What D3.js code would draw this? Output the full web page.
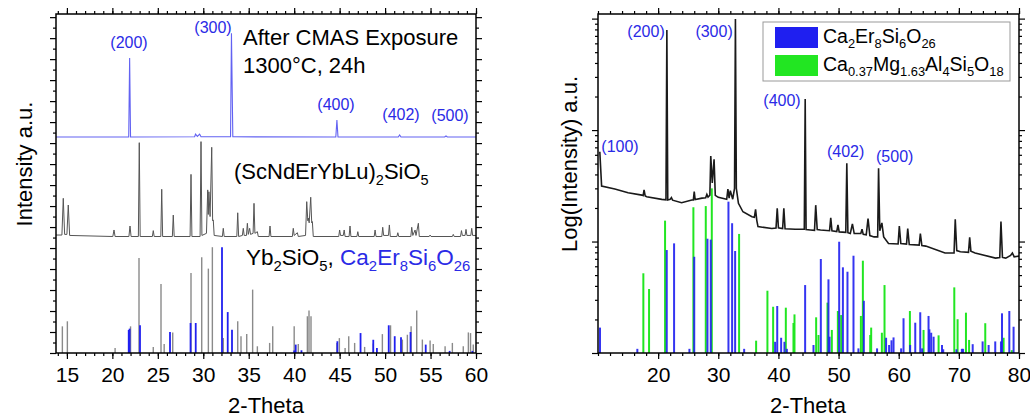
<!DOCTYPE html>
<meta charset="utf-8">
<style>
  html, body { margin: 0; padding: 0; background: #fff; }
  svg { display: block; font-family: "Liberation Sans", Arial, sans-serif; }
</style>
<body>
<script src="https://cdnjs.cloudflare.com/ajax/libs/d3/7.8.5/d3.min.js"></script>
<script>
// ---- left panel data (2-Theta, a.u.) ----
var afterCmas = [[13.8,10.29],[21.8,10.29],[21.9,14.05],[22.0,10.29],[29.05,10.3],[29.15,10.43],[29.35,10.32],
  [29.6,10.43],[29.75,10.3],[33.0,10.3],[33.1,15.23],[33.25,10.3],[44.58,10.29],[44.7,11.10],[44.82,10.29],
  [51.45,10.29],[51.6,10.39],[51.75,10.29],[56.55,10.29],[56.7,10.34],[56.85,10.29],[60,10.29]];

var hea = [[13.8,5.62],[14.45,5.62],[14.6,7.37],[14.75,5.65],[15.0,5.65],[15.15,7.05],[15.3,5.6],[20.05,5.55],
  [20.18,5.86],[20.3,5.55],[21.82,5.55],[21.94,6.05],[22.06,5.55],[22.86,5.55],[22.96,10.02],[23.06,5.55],
  [24.4,5.55],[24.5,5.83],[24.6,5.55],[25.33,5.55],[25.43,7.80],[25.53,5.55],[26.6,5.55],[26.7,6.57],
  [26.8,5.55],[28.55,5.55],[28.65,8.51],[28.75,5.55],[29.65,5.55],[29.75,10.07],[29.85,5.6],[30.35,5.7],
  [30.49,7.77],[30.55,6.6],[30.62,7.68],[30.75,6.5],[30.93,9.80],[31.03,6.3],[31.1,6.34],[31.2,5.6],
  [32.1,5.55],[32.2,5.94],[32.3,5.55],[33.69,5.55],[33.79,6.68],[33.89,5.55],[34.3,5.6],[34.4,5.94],
  [34.5,5.6],[34.75,5.6],[34.85,6.18],[34.95,5.65],[35.1,5.94],[35.2,5.65],[35.48,5.7],[35.58,7.13],
  [35.68,5.7],[35.95,5.78],[36.05,5.55],[37.24,5.55],[37.34,6.05],[37.44,5.55],[39.8,5.55],[39.9,5.94],
  [40.0,5.6],[40.35,5.73],[40.45,5.55],[41.25,5.6],[41.38,7.21],[41.5,6.3],[41.55,6.43],[41.65,6.2],
  [41.82,7.42],[41.93,6.2],[42.0,6.26],[42.1,5.55],[44.9,5.55],[45.0,5.86],[45.1,5.6],[45.4,5.6],
  [45.5,5.86],[45.6,5.55],[46.04,5.55],[46.14,6.05],[46.24,5.55],[46.9,5.55],[47.0,5.78],[47.1,5.55],
  [48.8,5.55],[48.9,5.86],[49.0,5.55],[49.64,5.55],[49.74,5.99],[49.84,5.6],[50.37,5.6],[50.47,6.10],
  [50.57,5.55],[51.3,5.55],[51.4,5.73],[51.5,5.55],[52.83,5.55],[52.93,5.99],[53.05,5.6],[53.3,5.86],
  [53.4,5.6],[53.66,6.18],[53.76,5.55],[54.85,5.55],[54.95,5.62],[55.05,5.55],[57.4,5.55],[57.5,5.65],
  [57.6,5.55],[58.3,5.55],[58.4,5.83],[58.5,5.6],[58.8,5.6],[58.9,5.89],[59.0,5.6],[59.43,5.6],
  [59.53,5.94],[59.63,5.6],[60,5.6]];

var ybSticks = [[14.5,1.27],[15.05,1.51],[20.3,0.24],[22.0,1.27],[22.93,4.53],[24.5,0.29],[25.35,3.29],
  [25.7,0.43],[26.64,0.98],[28.65,3.81],[29.83,4.56],[30.56,4.02],[31.0,5.04],[32.2,0.71],[33.79,1.51],
  [34.15,0.8],[34.78,0.9],[35.43,3.02],[35.95,0.32],[37.3,0.48],[37.64,1.27],[40.0,1.27],[40.45,0.43],
  [41.45,1.75],[41.63,2.02],[41.85,1.75],[44.7,0.48],[44.97,0.71],[45.6,0.24],[46.0,0.8],[46.65,0.48],
  [47.75,0.29],[48.7,0.45],[49.7,0.9],[50.6,1.32],[51.9,0.64],[52.45,0.87],[52.86,1.27],[53.48,2.02],
  [54.1,0.64],[54.95,0.6],[55.3,0.43],[56.6,0.32],[57.4,0.48],[58.6,0.32],[59.16,0.98],[59.4,0.95],[59.7,0.4]];

var apatiteSticksL = [[21.8,1.1],[21.9,1.16],[23.04,1.32],[26.34,1.0],[28.6,1.43],[29.17,1.43],[32.06,5.04],
  [32.69,1.95],[33.16,1.11],[40.0,0.12],[40.17,0.40],[40.8,0.13],[44.75,0.56],[47.3,0.95],[48.7,0.63],
  [49.1,0.24],[50.4,1.32],[51.06,0.8],[51.75,0.75],[52.8,1.0],[54.47,0.40],[57.1,0.1],[59.6,0.1]];

var labelsL = [["(200)",21.83,14.53],["(300)",31.07,15.25],["(400)",44.6,11.58],["(402)",51.75,11.1],["(500)",57.14,11.05]];

// ---- right panel data (2-Theta, counts, log axis) ----
var cmasScan = [[10.3,64],[10.6,31.5],[12.8,29.6],[15.0,27.4],[17.3,26.1],[17.5,25.8],[17.66,29.0],[17.85,25.6],
  [18.1,25.2],[20.6,23.9],[21.3,23.7],[21.45,789],[21.6,23.6],[22.0,23.9],[22.2,24.8],[22.4,23.5],[23.9,22.3],
  [25.6,23.6],[25.85,23.6],[26.0,28.0],[26.15,23.8],[27.3,24.5],[27.9,24.7],[28.1,26.5],[28.3,25],[28.6,26],
  [28.75,58.5],[29.0,33.5],[29.3,54.6],[29.5,26],[30.0,24.9],[31.4,23.9],[31.6,29.6],[31.8,24.5],[32.0,28.6],
  [32.4,24],[32.7,30],[32.85,990],[33.0,30],[33.35,22.0],[34.1,18.5],[35.6,16.7],[36.0,16.5],[36.2,19.4],
  [36.4,15.5],[36.6,13.6],[38.9,13.1],[39.6,13.2],[39.8,19.9],[40.0,13.3],[40.3,13.2],[40.7,13.1],[40.9,19.9],
  [41.1,13.0],[42.8,12.9],[44.3,12.9],[44.45,190],[44.6,12.8],[45.3,12.7],[46.0,12.6],[46.2,21.2],[46.45,12.8],
  [47.0,12.7],[48.5,12.5],[48.7,16.3],[48.9,12.5],[49.7,12.3],[49.9,14.1],[50.1,12.2],[51.2,12.1],[51.37,50.3],
  [51.55,12.0],[51.95,11.8],[52.3,14.4],[52.6,11.8],[53.7,11.8],[53.9,12.9],[54.1,11.6],[54.6,11.5],[54.9,16.1],
  [55.2,11.3],[55.9,11.0],[56.5,11.0],[56.65,45.4],[56.85,12.5],[57.2,14.7],[57.5,11.0],[58.3,9.6],[59.9,9.5],
  [60.1,13.8],[60.35,9.6],[61.3,9.5],[61.5,13.1],[61.75,9.4],[63.4,9.3],[63.6,11.8],[63.85,9.2],[64.5,9.1],
  [67.7,7.9],[69.2,7.9],[69.4,15.8],[69.65,8.3],[70.25,8.1],[71.6,8.0],[71.8,10.9],[72.0,8.2],[72.7,7.9],
  [76.1,7.1],[76.8,7.2],[77.0,15.1],[77.25,7.2],[77.8,7.1],[78.6,7.5],[78.9,7.9],[79.2,7.3],[80,7.4]];

var apatiteSticksR = [[10.33,1.69],[16.54,1.09],[21.43,8.39],[22.65,9.63],[25.2,1.09],[26.0,7.3],[28.2,10.6],
  [28.75,10.4],[31.69,22.8],[32.3,14.6],[32.8,8.22],[34.3,1.09],[39.45,1.26],[39.8,2.64],[40.45,1.37],[41.0,1.26],
  [41.4,1.09],[44.44,4.07],[45.83,1.18],[47.05,6.97],[48.32,4.58],[48.5,1.40],[50.1,9.96],[50.72,5.87],[51.48,5.36],
  [52.48,7.46],[53.3,1.1],[54.2,2.94],[56.4,1.1],[57.9,1.37],[58.4,1.18],[58.8,1.3],[59.14,1.38],[60.4,1.1],
  [60.8,2.05],[61.9,1.18],[62.75,1.87],[63.58,2.32],[63.9,1.1],[64.96,2.15],[65.1,1.63],[65.4,1.52],[65.8,1.4],
  [67.2,1.18],[67.4,1.08],[69.6,1.08],[70.5,1.09],[70.7,1.09],[72.3,1.2],[73.95,1.27],[74.95,1.18],[76.05,1.27],
  [77.0,1.27],[77.17,2.27],[78.39,2.38],[79.1,1.72]];

var cordieriteSticks = [[17.54,5.19],[18.49,3.75],[21.15,15.4],[25.86,20.3],[27.92,20.8],[28.92,30.0],[33.46,11.7],
  [36.29,1.29],[38.17,3.62],[39.12,2.60],[41.23,2.55],[42.5,1.86],[42.67,2.22],[46.27,2.09],[46.66,1.45],
  [48.16,2.83],[48.88,1.61],[49.88,2.38],[50.43,2.19],[53.71,2.15],[54.04,6.73],[55.26,1.45],[55.42,1.69],
  [57.2,1.52],[57.64,4.07],[61.86,2.38],[64.13,1.61],[66.63,1.44],[69.24,3.88],[69.79,2.01],[71.18,2.30],
  [71.7,1.31],[74.39,1.85],[77.44,1.37],[78.8,1.06]];

var labelsR = [["(100)",13.66,63.5],["(200)",17.99,682],["(300)",29.3,682],["(400)",40.6,164],["(402)",51.18,57.3],["(500)",59.33,51.6]];

var legendNames = ["Ca_{2}Er_{8}Si_{6}O_{26}", "Ca_{0.37}Mg_{1.63}Al_{4}Si_{5}O_{18}"];
var legendColors = ["#1f1ff0", "#22e622"];

var svg = d3.select("body").append("svg").attr("width", 1030).attr("height", 420);

var xL = d3.scaleLinear([13.8, 60], [56, 476]);
var yL = d3.scaleLinear([0, 16.15], [353, 14]);
var xR = d3.scaleLinear([10, 80], [598, 1019]);
var yR = d3.scaleLog([1, 1100], [353, 14]);

var blue = "#2a2ae6";

/* appends tspans for a string with subscripts written as X_{n} */
function addRich(t, str, size, color) {
  var bits = str.split(/_\{([^}]*)\}/);
  bits.forEach(function(b, i) {
    if (b === "") return;
    var sub = i % 2 === 1;
    var s = t.append("tspan").text(b).attr("fill", color || "#000");
    if (sub) s.attr("font-size", size * 0.66).attr("dy", size * 0.28);
    else if (i > 0 && bits[i - 1] !== undefined) s.attr("dy", -size * 0.28);
  });
  return t;
}
function rich(parent, x, y, str, size, color) {
  var t = parent.append("text").attr("x", x).attr("y", y).attr("font-size", size);
  return addRich(t, str, size, color);
}

function clip(id, x, y) {
  svg.append("clipPath").attr("id", id).append("rect")
    .attr("x", x.range()[0]).attr("y", y.range()[1])
    .attr("width", x.range()[1] - x.range()[0]).attr("height", y.range()[0] - y.range()[1]);
}
clip("cl", xL, yL);
clip("cr", xR, yR);

function axes(x, y, xMaj, xMin, yMaj, yMin) {
  var bot = y.range()[0], top = y.range()[1], lft = x.range()[0], rgt = x.range()[1];
  function add(axis, tr) {
    var g = svg.append("g").attr("transform", tr).call(axis);
    g.select(".domain").remove();
    g.selectAll("line").attr("stroke", "#000").attr("stroke-width", 1.2);
    return g;
  }
  add(d3.axisBottom(x).tickValues(xMin).tickSize(3).tickFormat(""), "translate(0," + bot + ")");
  add(d3.axisTop(x).tickValues(xMin).tickSize(3).tickFormat(""), "translate(0," + top + ")");
  add(d3.axisTop(x).tickValues(xMaj).tickSize(6).tickFormat(""), "translate(0," + top + ")");
  var lab = add(d3.axisBottom(x).tickValues(xMaj).tickSize(6).tickPadding(8).tickFormat(d3.format("d")), "translate(0," + bot + ")");
  lab.attr("font-size", 21).attr("font-family", null);
  lab.selectAll("text").attr("fill", "#000");
  [[d3.axisLeft, lft], [d3.axisRight, rgt]].forEach(function(a) {
    add(a[0](y).tickValues(yMin).tickSize(3).tickFormat(""), "translate(" + a[1] + ",0)");
    add(a[0](y).tickValues(yMaj).tickSize(6).tickFormat(""), "translate(" + a[1] + ",0)");
  });
  svg.append("rect").attr("x", lft).attr("y", top).attr("width", rgt - lft).attr("height", bot - top)
    .attr("fill", "none").attr("stroke", "#000").attr("stroke-width", 1.5);
}

/* ---------------- left panel ---------------- */
var gl = svg.append("g").attr("clip-path", "url(#cl)");

gl.selectAll(".yb").data(ybSticks).enter().append("line")
  .attr("x1", d => xL(d[0])).attr("x2", d => xL(d[0]))
  .attr("y1", yL(0)).attr("y2", d => yL(d[1]))
  .attr("stroke", "#8a8a8a").attr("stroke-width", 1.4);
gl.selectAll(".apL").data(apatiteSticksL).enter().append("line")
  .attr("x1", d => xL(d[0])).attr("x2", d => xL(d[0]))
  .attr("y1", yL(0)).attr("y2", d => yL(d[1]))
  .attr("stroke", "#2020f0").attr("stroke-width", 1.8);

var lineL = d3.line().x(d => xL(d[0])).y(d => yL(d[1]));
gl.append("path").datum(hea).attr("d", lineL).attr("fill", "none").attr("stroke", "#555").attr("stroke-width", 1);
gl.append("path").datum(afterCmas).attr("d", lineL).attr("fill", "none").attr("stroke", "#6262f2").attr("stroke-width", 1.1);

labelsL.forEach(function(l) {
  svg.append("text").attr("x", xL(l[1])).attr("y", yL(l[2])).attr("text-anchor", "middle")
    .attr("font-size", 16).attr("fill", blue).text(l[0]);
});

svg.append("text").attr("x", 243).attr("y", 45).attr("font-size", 22).text("After CMAS Exposure");
svg.append("text").attr("x", 243).attr("y", 73).attr("font-size", 22).text("1300\u00b0C, 24h");
rich(svg, 234, 179, "(ScNdErYbLu)_{2}SiO_{5}", 22);
var stickLab = rich(gl, 246, 265, "Yb_{2}SiO_{5}, ", 22.5);
addRich(stickLab, "Ca_{2}Er_{8}Si_{6}O_{26}", 22.5, blue);

axes(xL, yL, d3.range(15, 61, 5), d3.range(14, 61, 1), d3.range(0, 17, 1), d3.range(0.5, 16.1, 1));

svg.append("text").attr("transform", "translate(32,164) rotate(-90)").attr("text-anchor", "middle")
  .attr("font-size", 22).text("Intensity a.u.");
svg.append("text").attr("x", 266).attr("y", 413).attr("text-anchor", "middle").attr("font-size", 22).text("2-Theta");

/* ---------------- right panel ---------------- */
var gr = svg.append("g").attr("clip-path", "url(#cr)");
gr.selectAll(".co").data(cordieriteSticks).enter().append("line")
  .attr("x1", d => xR(d[0])).attr("x2", d => xR(d[0]))
  .attr("y1", yR(1)).attr("y2", d => yR(d[1]))
  .attr("stroke", legendColors[1]).attr("stroke-width", 2);
gr.selectAll(".apR").data(apatiteSticksR).enter().append("line")
  .attr("x1", d => xR(d[0])).attr("x2", d => xR(d[0]))
  .attr("y1", yR(1)).attr("y2", d => yR(d[1]))
  .attr("stroke", legendColors[0]).attr("stroke-width", 2).attr("stroke-opacity", 0.9);

var lineR = d3.line().x(d => xR(d[0])).y(d => yR(d[1]));
gr.append("path").datum(cmasScan).attr("d", lineR).attr("fill", "none").attr("stroke", "#1a1a1a").attr("stroke-width", 1.6);

labelsR.forEach(function(l) {
  svg.append("text").attr("x", xR(l[1])).attr("y", yR(l[2])).attr("text-anchor", "middle")
    .attr("font-size", 16).attr("fill", blue).text(l[0]);
});

var majR = [1, 10, 100, 1000];
var minR = [];
majR.slice(0, 3).forEach(function(m) { for (var k = 2; k < 10; k++) minR.push(m * k); });
axes(xR, yR, d3.range(20, 81, 10), d3.range(10, 81, 2), majR, minR);

// legend
var lg = svg.append("g").attr("transform", "translate(763,22)");
lg.append("rect").attr("width", 247).attr("height", 59).attr("fill", "#fff").attr("stroke", "#999").attr("stroke-width", 1);
legendNames.forEach(function(n, i) {
  lg.append("rect").attr("x", 12).attr("y", 5 + i * 28).attr("width", 43).attr("height", 21).attr("fill", legendColors[i]);
});
rich(svg, 823, 43, legendNames[0], 19.5);
rich(svg, 823, 71, legendNames[1], 19.5);

svg.append("text").attr("transform", "translate(577,164) rotate(-90)").attr("text-anchor", "middle")
  .attr("font-size", 22).text("Log(Intensity) a.u.");
svg.append("text").attr("x", 808).attr("y", 413).attr("text-anchor", "middle").attr("font-size", 22).text("2-Theta");
</script>
</body>
